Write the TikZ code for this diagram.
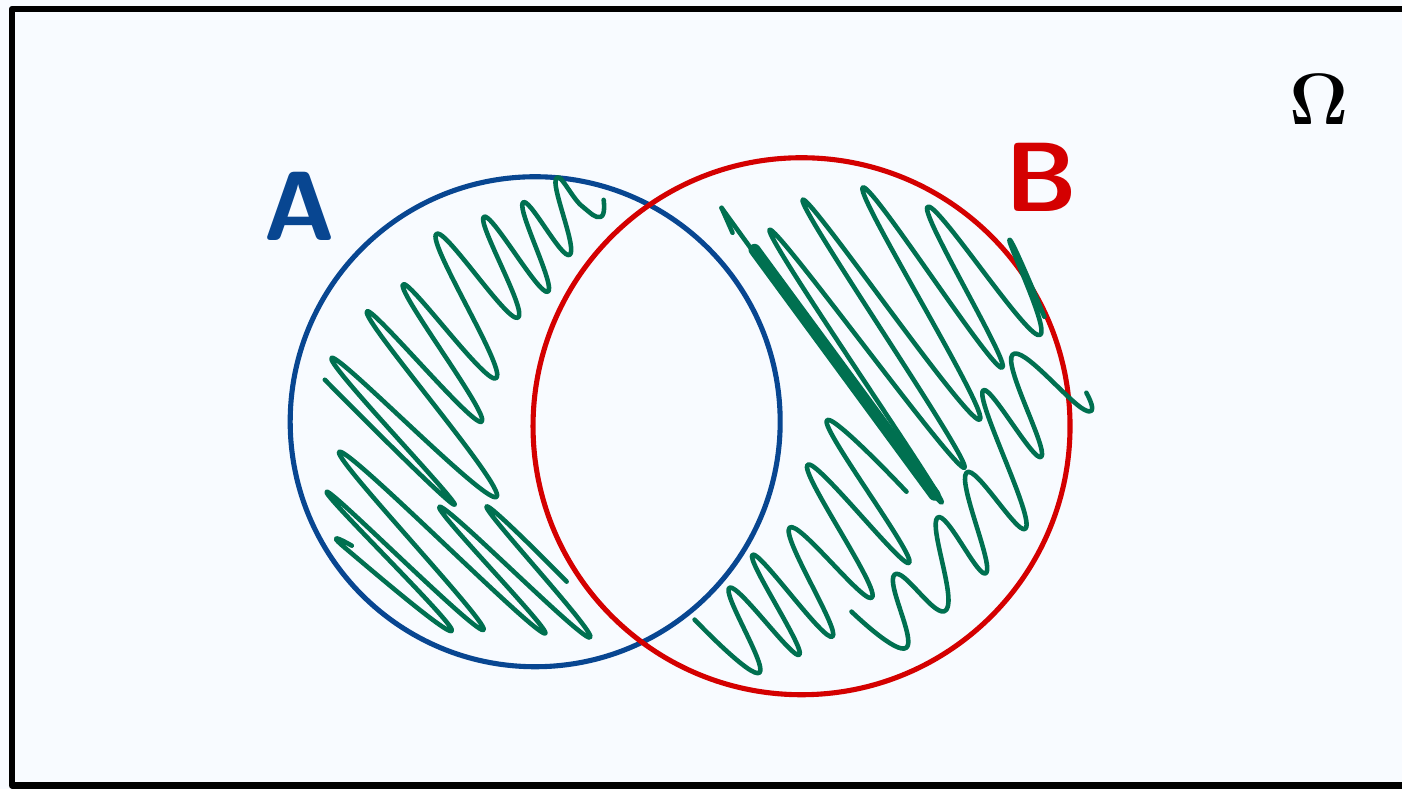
\documentclass[tikz,border=0pt]{standalone}
\usepackage{amsmath,amssymb}
\usepackage{xcolor}
\usepackage{tikz}
\definecolor{PaperBlue}{RGB}{248,251,255}
\definecolor{SetBlue}{RGB}{8,70,145}
\definecolor{SetRed}{RGB}{212,0,0}
\definecolor{HatchGreen}{RGB}{0,112,80}

\begin{document}
\begin{tikzpicture}[
px/.style={yshift=7.89cm, x=0.01cm, y=-0.01cm},
frame/.style={line width=1.75pt, black, line join=round},
ring/.style={line width=1.45pt},
scribble/.style={HatchGreen, line width=1.3pt, line cap=round, line join=round},
heavy/.style={HatchGreen, line width=3.4pt, line cap=round},
setlabel/.style={font=\fontsize{28}{28}\selectfont\sffamily\bfseries, inner sep=0pt}
]
\fill[PaperBlue] (0,0) rectangle (14.02,7.89);
\useasboundingbox (0,0) rectangle (14.02,7.89);
\begin{scope}[px]
\draw[frame] (1410,9) -- (12,9) -- (12,786) -- (1410,786);
\draw[ring, SetBlue] (535.5,422) circle [radius=2.45cm];
\draw[ring, SetRed] (802,426.5) circle [radius=2.685cm];
\draw[scribble] plot[smooth, tension=.85] coordinates {(604,200) (601,217) (582,206) (556,180) (570,255) (523,203) (548,292) (484,217) (518,318) (436,235) (497,378) (403,285) (482,422) (367,313) (497,497) (332,358) (455,505) (325,380)};
\draw[scribble] plot[smooth, tension=.85] coordinates {(352,546) (345,548) (452,630) (327,492) (484,630) (340,452) (543,633) (440,507) (590,638) (487,508) (567,582)};
\draw[scribble] (733,233) -- (722,208);
\draw[scribble] plot[smooth, tension=.8] coordinates {(722,208) (942,503) (770,230) (965,468) (803,200) (980,420) (863,188) (1002,368) (928,207) (1038,335) (1010,240) (1045,317)};
\draw[heavy] (755,250) -- (935,495);
\draw[scribble] plot[smooth, tension=.8] coordinates {(1087,393) (1085,410) (1013,355) (1042,457) (983,392) (1027,527) (967,473) (987,573) (938,518) (947,610) (895,575) (907,648) (852,612)};
\draw[scribble] plot[smooth, tension=.8] coordinates {(695,620) (760,673) (730,588) (800,655) (753,555) (833,637) (790,528) (873,597) (808,465) (910,563) (827,422) (907,492)};
\node[setlabel, SetBlue] (labA) at (300,206) {A};
\node[setlabel, SetRed] (labB) at (1042,177) {B};
\node[font=\fontsize{20}{20}\selectfont, inner sep=0pt] (omega) at (1320,100) {$\mathbf{\Omega}$};
\end{scope}
\end{tikzpicture}
\end{document}
